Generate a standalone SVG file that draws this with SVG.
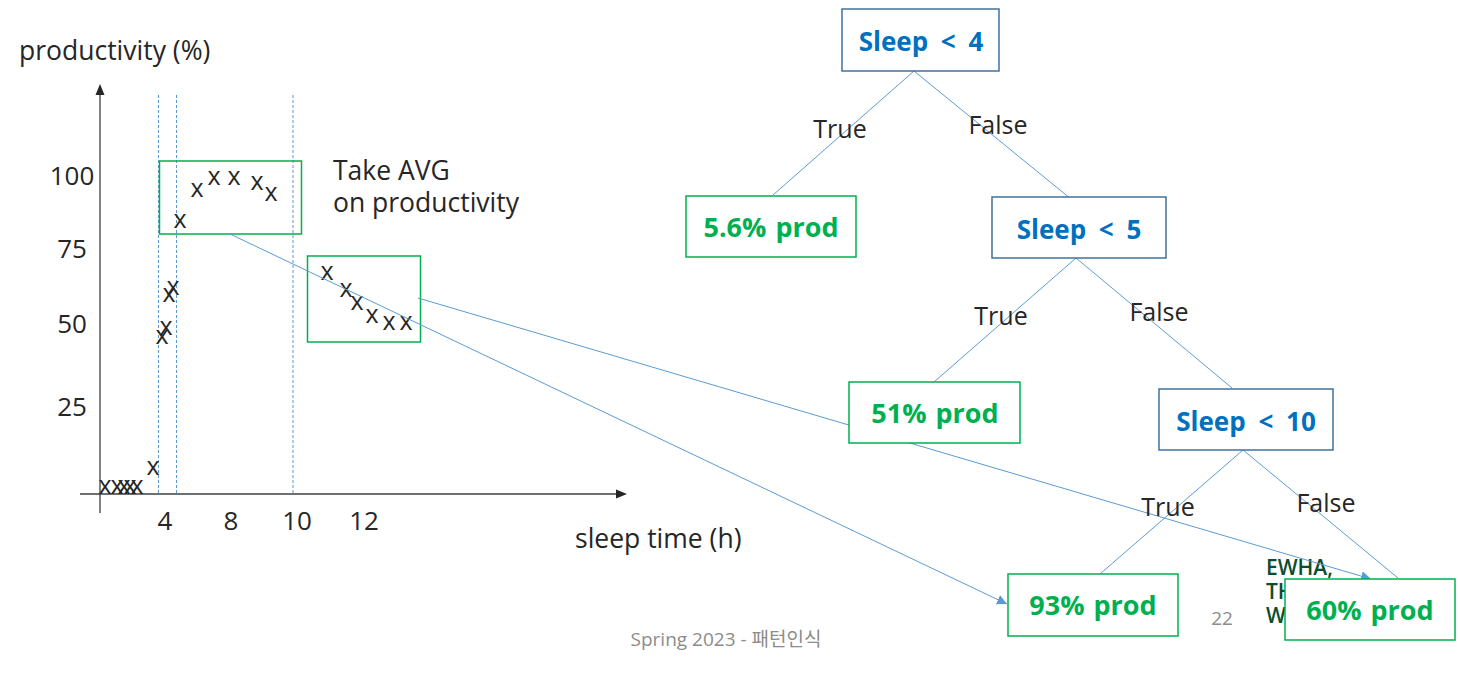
<svg xmlns="http://www.w3.org/2000/svg" width="1458" height="674" viewBox="0 0 1458 674">
<style>
text{font-family:"Open Sans","Noto Sans","Liberation Sans",sans-serif;fill:#262626}
.lbl{font-size:26.5px}
.tl{font-size:25px;text-anchor:middle}
.mk{font-size:25px;text-anchor:middle}
.tick{font-size:26px;text-anchor:middle}
.dec{font-size:26px;font-weight:bold;fill:#0070C0;text-anchor:middle;word-spacing:6px}
.leaf{font-size:27px;font-weight:bold;fill:#00B050;text-anchor:middle;word-spacing:2px}
.dbox{fill:#fff;stroke:#41719C;stroke-width:1.5}
.lbox{fill:#fff;stroke:#00B050;stroke-width:1.5}
.gbox{fill:none;stroke:#00B050;stroke-width:1.5}
.edge{stroke:#5B9BD5;stroke-width:1;fill:none}
.dash{stroke:#5B9BD5;stroke-width:1;stroke-dasharray:3 2}
.axis{stroke:#404040;stroke-width:1.3}
.foot{font-size:19px;fill:#8c8c8c}
.logo{fill:#0B4D2C;font-size:21px;font-weight:600}
</style>
<defs>
<marker id="ah" viewBox="0 0 10 10" refX="10" refY="5" markerWidth="10" markerHeight="10" markerUnits="userSpaceOnUse" orient="auto">
<path d="M0,0 L10,5 L0,10 z" fill="#5B9BD5"/>
</marker>
</defs>

<!-- chart -->
<g id="chart">
<text class="lbl" x="19" y="60">productivity (%)</text>
<line class="axis" x1="100" y1="94" x2="100" y2="513"/>
<path d="M100,84 L104.5,95 L95.5,95 z" fill="#262626"/>
<line class="axis" x1="80" y1="494" x2="617" y2="494"/>
<path d="M627,494 L616,489.5 L616,498.5 z" fill="#262626"/>
<line class="dash" x1="158.5" y1="95" x2="158.5" y2="494"/>
<line class="dash" x1="176.5" y1="95" x2="176.5" y2="494"/>
<line class="dash" x1="293" y1="95" x2="293" y2="494"/>
<text class="tick" x="72" y="185">100</text>
<text class="tick" x="72" y="258">75</text>
<text class="tick" x="72" y="333">50</text>
<text class="tick" x="72" y="416">25</text>
<text class="tick" x="165" y="530">4</text>
<text class="tick" x="231" y="530">8</text>
<text class="tick" x="297" y="530">10</text>
<text class="tick" x="364" y="530">12</text>
<text class="lbl" x="575" y="548">sleep time (h)</text>
<text class="lbl" x="333" y="180">Take AVG</text>
<text class="lbl" x="333" y="212">on productivity</text>
<rect class="gbox" x="159.5" y="161" width="142" height="73"/>
<rect class="gbox" x="307.5" y="256" width="113" height="86"/>
<g id="points">
<text class="mk" x="105" y="494">x</text>
<text class="mk" x="117" y="494">x</text>
<text class="mk" x="124" y="494">x</text>
<text class="mk" x="130" y="494">x</text>
<text class="mk" x="137" y="494">x</text>
<text class="mk" x="153" y="475">x</text>
<text class="mk" x="162" y="344">x</text>
<text class="mk" x="166" y="335">x</text>
<text class="mk" x="169" y="302">x</text>
<text class="mk" x="173" y="295">x</text>
<text class="mk" x="180" y="228">x</text>
<text class="mk" x="197" y="197">x</text>
<text class="mk" x="214" y="185">x</text>
<text class="mk" x="234" y="185">x</text>
<text class="mk" x="257" y="190">x</text>
<text class="mk" x="271" y="201">x</text>
<text class="mk" x="327" y="280">x</text>
<text class="mk" x="346" y="297">x</text>
<text class="mk" x="357" y="310">x</text>
<text class="mk" x="372" y="323">x</text>
<text class="mk" x="389" y="330">x</text>
<text class="mk" x="406" y="330">x</text>
</g>
</g>

<!-- footer -->
<g id="footer">
<text class="foot" x="726" y="646" text-anchor="middle">Spring 2023 - <tspan font-family="'Noto Sans CJK KR',sans-serif">패턴인식</tspan></text>
<text class="foot" x="1222" y="625" text-anchor="middle" font-size="17">22</text>
<text class="logo" x="1266" y="575">EWHA,</text>
<text class="logo" x="1266" y="599">TH</text>
<text class="logo" x="1266" y="623">W</text>
</g>

<!-- connectors -->
<g id="connectors">
<line class="edge" x1="914" y1="71" x2="773" y2="195"/>
<line class="edge" x1="914" y1="71" x2="1071" y2="199"/>
<line class="edge" x1="1076" y1="258" x2="934" y2="382"/>
<line class="edge" x1="1076" y1="258" x2="1232" y2="388"/>
<line class="edge" x1="1243" y1="450" x2="1100" y2="574"/>
<line class="edge" x1="1243" y1="450" x2="1398" y2="578"/>
<line class="edge" x1="230" y1="234" x2="1007" y2="604" marker-end="url(#ah)"/>
<line class="edge" x1="418" y1="298" x2="1371" y2="579" marker-end="url(#ah)"/>
<text class="tl" x="840" y="138">True</text>
<text class="tl" x="998" y="134">False</text>
<text class="tl" x="1001" y="325">True</text>
<text class="tl" x="1159" y="321">False</text>
<text class="tl" x="1168" y="516">True</text>
<text class="tl" x="1326" y="512">False</text>
</g>

<!-- nodes -->
<g id="n_sleep4"><rect class="dbox" x="842" y="9" width="157" height="62"/><text class="dec" x="921" y="51">Sleep &lt; 4</text></g>
<g id="n_sleep5"><rect class="dbox" x="992" y="197" width="174" height="61"/><text class="dec" x="1079" y="239">Sleep &lt; 5</text></g>
<g id="n_sleep10"><rect class="dbox" x="1159" y="389" width="174" height="61"/><text class="dec" x="1246" y="431">Sleep &lt; 10</text></g>
<g id="n_56"><rect class="lbox" x="686" y="196" width="170" height="61"/><text class="leaf" x="771" y="237">5.6% prod</text></g>
<g id="n_51"><rect class="lbox" x="849" y="382" width="171" height="61"/><text class="leaf" x="935" y="423">51% prod</text></g>
<g id="n_93"><rect class="lbox" x="1008" y="574" width="170" height="62"/><text class="leaf" x="1093" y="615">93% prod</text></g>
<g id="n_60"><rect class="lbox" x="1285" y="579" width="170" height="61"/><text class="leaf" x="1370" y="620">60% prod</text></g>
</svg>
